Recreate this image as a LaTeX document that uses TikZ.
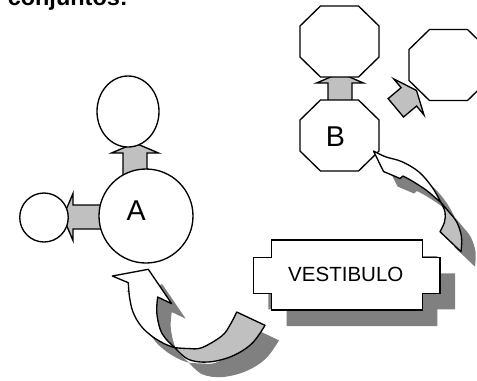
\documentclass[tikz,border=0pt]{standalone}
\usepackage{fontspec}
\setmainfont{Liberation Sans}
\usetikzlibrary{shapes.geometric,calc}
\definecolor{arrowgray}{RGB}{192,192,192}
\definecolor{shadowgray}{RGB}{128,128,128}
\tikzset{
  ring/.style={ellipse, draw, line width=1pt, fill=white, inner sep=0pt},
  barrow/.style={draw, line width=1pt, fill=arrowgray, line join=miter},
  octline/.style={draw, line width=1pt, fill=white},
  face/.style={draw, line width=1pt, fill=white, line join=round},
  backface/.style={draw, line width=1pt, fill=arrowgray, line join=round},
  shade/.style={fill=shadowgray},
  lbl/.style={inner sep=0pt, anchor=base, font=\fontsize{21.5pt}{24pt}\selectfont}
}
\newcommand\blkarrow[4]{%
  \begin{scope}[shift={(#1,#2)},rotate=#3]
    \draw[barrow] (0,-12) -- (#4,-12) -- (#4,-23.5) -- ({#4+10},0) -- (#4,23.5) -- (#4,12) -- (0,12) -- cycle;
  \end{scope}}
\newcommand\octo[3]{%
  \coordinate (#1) at (#2,#3);
  \begin{scope}[shift={(#2,#3)}]
    \draw[octline] (-19,-35.5) -- (19,-35.5) -- (39.5,-15.5) -- (39.5,15.5) -- (19,35.5) -- (-19,35.5) -- (-39.5,15.5) -- (-39.5,-15.5) -- cycle;
  \end{scope}}
\newcommand\curvAwhite[1]{%
  \path[#1] (128.3,282.7) -- (112.3,276) -- (148.3,269.3) -- (171.7,303.7) -- (157.7,297)
    -- plot[smooth, tension=0.6] coordinates {(157.7,297) (156.7,312) (160,328.7) (165.7,338.7) (175,347.7)}
    -- plot[smooth, tension=0.6] coordinates {(175,347.7) (166,344.5) (153,337) (141,326) (133,312) (129.5,297) (128.3,282.7)}
    -- cycle;}
\newcommand\curvAback[1]{%
  \path[#1] (175,347.7)
    -- plot[smooth, tension=0.6] coordinates {(175,347.7) (188,348.5) (201.7,347.7) (221.7,336) (230,325) (236.7,312)}
    -- (265,325.3)
    -- plot[smooth, tension=0.6] coordinates {(265,325.3) (251.7,343.7) (231.7,356.3) (208.3,362) (188.3,359.3) (175,347.7)}
    -- cycle;}
\newcommand\curvBwhite[1]{%
  \path[#1] (373.5,151) -- (383.5,171.5) -- (400,178.5) -- (403,176)
    -- plot[smooth, tension=0.6] coordinates {(403,176) (413,181.5) (426,190) (435,197.5) (441,202.5)}
    -- plot[smooth, tension=0.6] coordinates {(441,202.5) (432,187) (419,172) (402,161.7) (385.3,156.7) (373.5,151)}
    -- cycle;}
\newcommand\curvBback[1]{%
  \path[#1] (441,202.5)
    -- plot[smooth, tension=0.6] coordinates {(441,202.5) (449,212) (456.7,222) (461.5,236.7) (461,251.7)}
    -- (440,231.7)
    -- plot[smooth, tension=0.6] coordinates {(440,231.7) (444.5,222) (445,212) (441,202.5)}
    -- cycle;}
\begin{document}
\begin{tikzpicture}[x=0.75pt,y=-0.75pt]
\useasboundingbox (0,0) rectangle (477,380);

% title (cut off at top)
\node[anchor=base west, inner sep=0pt, font=\bfseries\fontsize{17.6pt}{20pt}\selectfont] (title) at (7.5,5.5) {conjuntos:};

% block arrows (drawn below the shapes)
\blkarrow{135}{176}{90}{23}
\blkarrow{104}{217}{180}{31}
\blkarrow{340}{106}{90}{23}
\blkarrow{395.8}{107.8}{40}{17}

% group A
\node[ring, minimum width=46.5pt, minimum height=53.25pt] (Atop) at (128,111.5) {};
\node[ring, minimum width=70.5pt, minimum height=70.5pt] (A) at (146,216) {};
\node[ring, minimum width=36.4pt, minimum height=36.75pt] (Aleft) at (44,217.5) {};
\node[lbl] (labelA) at (136.3,220) {A};

% group B
\octo{Btop}{339.5}{41.5}
\octo{B}{339.5}{135.5}
\octo{Bright}{448.5}{65}
\node[lbl] (labelB) at (335.5,146.7) {B};

% curved arrow B
\begin{scope}[shift={(14,15)}]
  \curvBwhite{shade}
  \curvBback{shade}
\end{scope}
\curvBback{backface}
\curvBwhite{face}

% curved arrow A
\begin{scope}[shift={(14,15)}]
  \curvAwhite{shade}
  \curvAback{shade}
\end{scope}
\curvAback{backface}
\curvAwhite{face}

% vestibulo box
\begin{scope}[shift={(15,16)}]
  \fill[shadowgray] (271.7,240) -- (422.3,240) -- (422.3,257.3) -- (440,257.3) -- (440,293.3) -- (422.3,293.3) -- (422.3,310) -- (271.7,310) -- (271.7,293.3) -- (253.3,293.3) -- (253.3,257.3) -- (271.7,257.3) -- cycle;
\end{scope}
\draw[face, line join=miter] (271.7,240) -- (422.3,240) -- (422.3,257.3) -- (440,257.3) -- (440,293.3) -- (422.3,293.3) -- (422.3,310) -- (271.7,310) -- (271.7,293.3) -- (253.3,293.3) -- (253.3,257.3) -- (271.7,257.3) -- cycle;
\node[inner sep=0pt, anchor=base, font=\fontsize{15.4pt}{18pt}\selectfont] (vest) at (345.8,281.7) {VESTIBULO};
\end{tikzpicture}
\end{document}
